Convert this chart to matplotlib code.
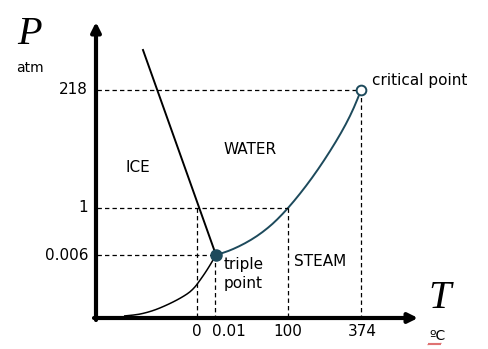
import numpy as np
import matplotlib.pyplot as plt
from matplotlib.path import Path
from matplotlib.patches import PathPatch

# schematic coordinates (diagram units, y grows downward like the sketch)
t_labels = ["0", "0.01", "100", "374"]
t_pos = [197, 215, 288, 361]
t_label_pos = [197, 229, 288, 362]
p_labels = ["218", "1", "0.006"]
p_pos = [90, 208, 255]

triple = (216, 255)
critical = (361, 90)

# sublimation curve (ice -> steam)
sub_x = [124, 135, 143, 152, 160, 169, 177, 184, 190, 195, 198, 203, 207, 211, 213, 216]
sub_y = [316, 315, 313.5, 311, 308, 304, 300, 296, 292, 287, 283, 276, 270, 263.5, 260, 255]
# melting line (ice -> water)
melt_x = [143, 216]
melt_y = [50, 255]
# vaporization curve (water -> steam)
vap_x = [216, 224, 233, 245, 257, 268, 277, 288, 300, 312, 324, 336, 346, 354, 361]
vap_y = [255, 252.6, 249.2, 243.4, 236.2, 227.9, 219.8, 208.2, 193.8, 178, 160.6,
         141.6, 124.1, 107.7, 90.2]

teal = "#1d4a5c"


def smooth_curve(ax, xs, ys, **kw):
    # quadratic bezier through midpoints, read points act as controls
    pts = list(zip(xs, ys))
    verts = [pts[0]]
    codes = [Path.MOVETO]
    for i in range(1, len(pts) - 1):
        mid = ((pts[i][0] + pts[i + 1][0]) / 2, (pts[i][1] + pts[i + 1][1]) / 2)
        verts += [pts[i], mid]
        codes += [Path.CURVE3, Path.CURVE3]
    verts.append(pts[-1])
    codes.append(Path.LINETO)
    ax.add_patch(PathPatch(Path(verts, codes), fill=False, **kw))


fig = plt.figure(figsize=(4.88, 3.49), dpi=100)
ax = fig.add_axes([0, 0, 1, 1])
ax.set_xlim(0, 488)
ax.set_ylim(349, 0)
ax.axis("off")

# axes with arrows
ax.annotate("", xy=(96, 22), xytext=(96, 320),
            arrowprops=dict(arrowstyle="-|>", lw=3, color="black",
                            mutation_scale=14, shrinkA=0, shrinkB=0))
ax.annotate("", xy=(418, 318), xytext=(94, 318),
            arrowprops=dict(arrowstyle="-|>", lw=3, color="black",
                            mutation_scale=14, shrinkA=0, shrinkB=0))

# dashed guide lines
dash = dict(color="black", lw=0.9, linestyle=(0, (3.5, 2.5)))
ax.plot([97, t_pos[2]], [208, 208], **dash)
ax.plot([97, triple[0]], [255, 255], **dash)
ax.plot([97, critical[0]], [90, 90], **dash)
ax.plot([t_pos[0], t_pos[0]], [208, 317], **dash)
ax.plot([t_pos[1], t_pos[1]], [255, 317], **dash)
ax.plot([t_pos[2], t_pos[2]], [208, 317], **dash)
ax.plot([t_pos[3], t_pos[3]], [90, 317], **dash)

# phase boundaries
smooth_curve(ax, sub_x, sub_y, edgecolor="black", lw=1.1)
ax.plot(melt_x, melt_y, color="black", lw=1.4)
smooth_curve(ax, vap_x, vap_y, edgecolor=teal, lw=1.4)

ax.plot(*triple, "o", ms=8, color=teal, zorder=5)
ax.plot(*critical, "o", ms=7, mfc="white", mec=teal, mew=1.4, zorder=5)

fs = 11
for lab, x in zip(t_labels, t_label_pos):
    ax.text(x, 331, lab, ha="center", va="center", fontsize=fs)
for lab, y in zip(p_labels, p_pos):
    ax.text(88, y, lab, ha="right", va="center", fontsize=fs)

ax.text(138, 168, "ICE", ha="center", va="center", fontsize=fs)
ax.text(250, 150, "WATER", ha="center", va="center", fontsize=fs)
ax.text(320, 262, "STEAM", ha="center", va="center", fontsize=fs)
ax.text(224, 274, "triple\npoint", ha="left", va="center", fontsize=fs,
        linespacing=1.3)
ax.text(372, 80, "critical point", ha="left", va="center", fontsize=fs)

ax.text(30, 35, "P", ha="center", va="center", fontsize=29,
        family="Liberation Serif", style="italic")
ax.text(30, 68, "atm", ha="center", va="center", fontsize=10)
ax.text(440, 298, "T", ha="center", va="center", fontsize=29,
        family="Liberation Serif", style="italic")
ax.text(437, 336, "ºC", ha="center", va="center", fontsize=10)

# spell-check squiggle under the unit
wx = np.linspace(428, 441, 14)
ax.plot(wx, 344 + 0.8 * (-1) ** np.arange(14), color="#d03030", lw=0.6)

fig.savefig("out.png", dpi=100)
